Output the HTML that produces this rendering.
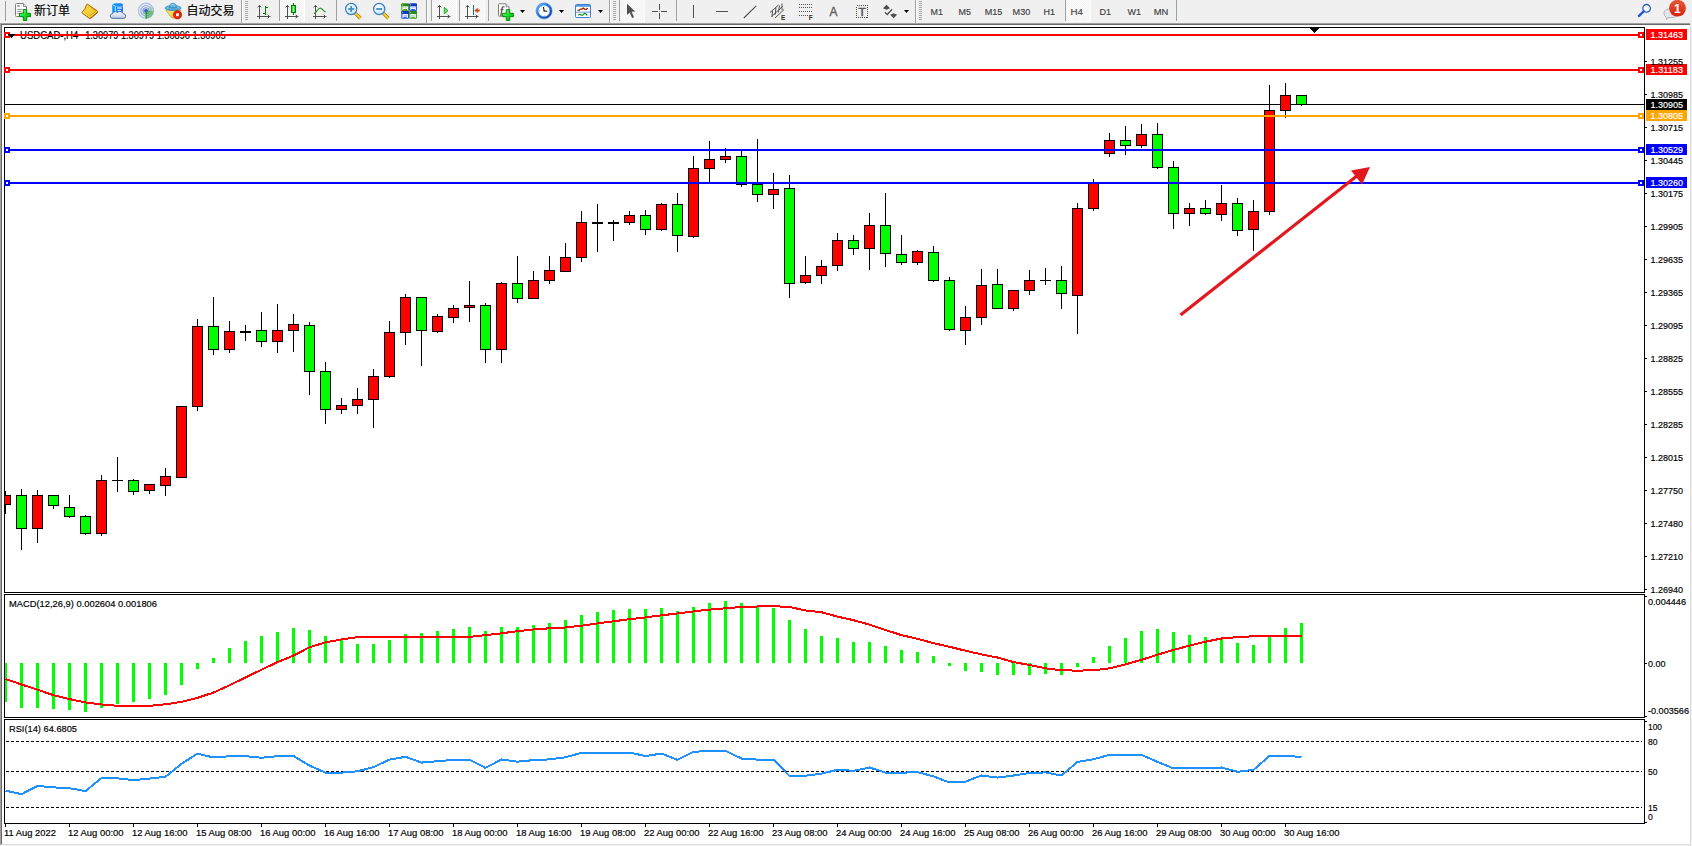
<!DOCTYPE html>
<html><head><meta charset="utf-8"><title>USDCAD-,H4</title>
<style>
html,body{margin:0;padding:0;background:#f0f0f0;overflow:hidden}
svg{display:block;font-family:'Liberation Sans','Noto Sans CJK SC',sans-serif}
</style></head><body>
<svg width="1692" height="846" viewBox="0 0 1692 846">
<rect x="0" y="0" width="1692" height="846" fill="#f0f0f0"/>
<g shape-rendering="crispEdges">
<rect x="0" y="23" width="1691" height="1" fill="#a0a0a0" />
<rect x="0" y="24" width="1691" height="1" fill="#696969" />
<rect x="0" y="23" width="1" height="822" fill="#a0a0a0" />
<rect x="1" y="24" width="1" height="820" fill="#696969" />
<rect x="2" y="25" width="1688" height="819" fill="#fff" />
<rect x="1690" y="23" width="1" height="822" fill="#dcdcdc" />
<rect x="1" y="844" width="1690" height="1" fill="#dcdcdc" />
<rect x="4" y="27" width="1641" height="1" fill="#000" />
<rect x="4" y="592" width="1641" height="1" fill="#000" />
<rect x="4" y="27" width="1" height="566" fill="#000" />
<rect x="1644" y="27" width="1" height="566" fill="#000" />
<rect x="4" y="594" width="1641" height="1" fill="#000" />
<rect x="4" y="717" width="1641" height="1" fill="#000" />
<rect x="4" y="594" width="1" height="124" fill="#000" />
<rect x="1644" y="594" width="1" height="124" fill="#000" />
<rect x="4" y="719" width="1641" height="1" fill="#000" />
<rect x="4" y="823" width="1641" height="1" fill="#000" />
<rect x="4" y="719" width="1" height="105" fill="#000" />
<rect x="1644" y="719" width="1" height="105" fill="#000" />
<clipPath id="cm"><rect x="5" y="28" width="1639" height="564"/></clipPath>
<rect x="5" y="104" width="1639" height="1" fill="#000" />
<g id="candles" clip-path="url(#cm)">
<rect x="5" y="491" width="1" height="23" fill="#000" />
<rect x="0" y="495" width="11" height="10" fill="#000" />
<rect x="1" y="496" width="9" height="8" fill="#ff0000" />
<rect x="21" y="489" width="1" height="61" fill="#000" />
<rect x="16" y="495" width="11" height="34" fill="#000" />
<rect x="17" y="496" width="9" height="32" fill="#00ff00" />
<rect x="37" y="490" width="1" height="53" fill="#000" />
<rect x="32" y="495" width="11" height="34" fill="#000" />
<rect x="33" y="496" width="9" height="32" fill="#ff0000" />
<rect x="53" y="495" width="1" height="14" fill="#000" />
<rect x="48" y="495" width="11" height="11" fill="#000" />
<rect x="49" y="496" width="9" height="9" fill="#00ff00" />
<rect x="69" y="495" width="1" height="23" fill="#000" />
<rect x="64" y="507" width="11" height="10" fill="#000" />
<rect x="65" y="508" width="9" height="8" fill="#00ff00" />
<rect x="85" y="515" width="1" height="20" fill="#000" />
<rect x="80" y="516" width="11" height="18" fill="#000" />
<rect x="81" y="517" width="9" height="16" fill="#00ff00" />
<rect x="101" y="475" width="1" height="61" fill="#000" />
<rect x="96" y="480" width="11" height="54" fill="#000" />
<rect x="97" y="481" width="9" height="52" fill="#ff0000" />
<rect x="117" y="457" width="1" height="35" fill="#000" />
<rect x="112" y="480" width="11" height="1" fill="#000" />
<rect x="133" y="479" width="1" height="16" fill="#000" />
<rect x="128" y="480" width="11" height="12" fill="#000" />
<rect x="129" y="481" width="9" height="10" fill="#00ff00" />
<rect x="149" y="484" width="1" height="10" fill="#000" />
<rect x="144" y="484" width="11" height="7" fill="#000" />
<rect x="145" y="485" width="9" height="5" fill="#ff0000" />
<rect x="165" y="468" width="1" height="28" fill="#000" />
<rect x="160" y="476" width="11" height="10" fill="#000" />
<rect x="161" y="477" width="9" height="8" fill="#ff0000" />
<rect x="181" y="406" width="1" height="71" fill="#000" />
<rect x="176" y="406" width="11" height="72" fill="#000" />
<rect x="177" y="407" width="9" height="70" fill="#ff0000" />
<rect x="197" y="319" width="1" height="92" fill="#000" />
<rect x="192" y="326" width="11" height="81" fill="#000" />
<rect x="193" y="327" width="9" height="79" fill="#ff0000" />
<rect x="213" y="297" width="1" height="58" fill="#000" />
<rect x="208" y="326" width="11" height="24" fill="#000" />
<rect x="209" y="327" width="9" height="22" fill="#00ff00" />
<rect x="229" y="321" width="1" height="32" fill="#000" />
<rect x="224" y="331" width="11" height="19" fill="#000" />
<rect x="225" y="332" width="9" height="17" fill="#ff0000" />
<rect x="245" y="325" width="1" height="16" fill="#000" />
<rect x="240" y="331" width="11" height="2" fill="#000" />
<rect x="261" y="312" width="1" height="35" fill="#000" />
<rect x="256" y="330" width="11" height="12" fill="#000" />
<rect x="257" y="331" width="9" height="10" fill="#00ff00" />
<rect x="277" y="304" width="1" height="49" fill="#000" />
<rect x="272" y="330" width="11" height="12" fill="#000" />
<rect x="273" y="331" width="9" height="10" fill="#ff0000" />
<rect x="293" y="314" width="1" height="38" fill="#000" />
<rect x="288" y="324" width="11" height="7" fill="#000" />
<rect x="289" y="325" width="9" height="5" fill="#ff0000" />
<rect x="309" y="322" width="1" height="73" fill="#000" />
<rect x="304" y="325" width="11" height="47" fill="#000" />
<rect x="305" y="326" width="9" height="45" fill="#00ff00" />
<rect x="325" y="362" width="1" height="62" fill="#000" />
<rect x="320" y="371" width="11" height="39" fill="#000" />
<rect x="321" y="372" width="9" height="37" fill="#00ff00" />
<rect x="341" y="398" width="1" height="16" fill="#000" />
<rect x="336" y="405" width="11" height="5" fill="#000" />
<rect x="337" y="406" width="9" height="3" fill="#ff0000" />
<rect x="357" y="388" width="1" height="26" fill="#000" />
<rect x="352" y="399" width="11" height="7" fill="#000" />
<rect x="353" y="400" width="9" height="5" fill="#ff0000" />
<rect x="373" y="369" width="1" height="59" fill="#000" />
<rect x="368" y="376" width="11" height="24" fill="#000" />
<rect x="369" y="377" width="9" height="22" fill="#ff0000" />
<rect x="389" y="321" width="1" height="57" fill="#000" />
<rect x="384" y="332" width="11" height="45" fill="#000" />
<rect x="385" y="333" width="9" height="43" fill="#ff0000" />
<rect x="405" y="294" width="1" height="51" fill="#000" />
<rect x="400" y="297" width="11" height="36" fill="#000" />
<rect x="401" y="298" width="9" height="34" fill="#ff0000" />
<rect x="421" y="297" width="1" height="69" fill="#000" />
<rect x="416" y="297" width="11" height="34" fill="#000" />
<rect x="417" y="298" width="9" height="32" fill="#00ff00" />
<rect x="437" y="314" width="1" height="19" fill="#000" />
<rect x="432" y="316" width="11" height="16" fill="#000" />
<rect x="433" y="317" width="9" height="14" fill="#ff0000" />
<rect x="453" y="305" width="1" height="18" fill="#000" />
<rect x="448" y="308" width="11" height="10" fill="#000" />
<rect x="449" y="309" width="9" height="8" fill="#ff0000" />
<rect x="469" y="281" width="1" height="41" fill="#000" />
<rect x="464" y="305" width="11" height="3" fill="#000" />
<rect x="465" y="306" width="9" height="1" fill="#ff0000" />
<rect x="485" y="303" width="1" height="60" fill="#000" />
<rect x="480" y="305" width="11" height="45" fill="#000" />
<rect x="481" y="306" width="9" height="43" fill="#00ff00" />
<rect x="501" y="282" width="1" height="81" fill="#000" />
<rect x="496" y="283" width="11" height="67" fill="#000" />
<rect x="497" y="284" width="9" height="65" fill="#ff0000" />
<rect x="517" y="256" width="1" height="47" fill="#000" />
<rect x="512" y="283" width="11" height="16" fill="#000" />
<rect x="513" y="284" width="9" height="14" fill="#00ff00" />
<rect x="533" y="271" width="1" height="27" fill="#000" />
<rect x="528" y="280" width="11" height="19" fill="#000" />
<rect x="529" y="281" width="9" height="17" fill="#ff0000" />
<rect x="549" y="256" width="1" height="28" fill="#000" />
<rect x="544" y="270" width="11" height="11" fill="#000" />
<rect x="545" y="271" width="9" height="9" fill="#ff0000" />
<rect x="565" y="243" width="1" height="29" fill="#000" />
<rect x="560" y="257" width="11" height="15" fill="#000" />
<rect x="561" y="258" width="9" height="13" fill="#ff0000" />
<rect x="581" y="211" width="1" height="51" fill="#000" />
<rect x="576" y="222" width="11" height="36" fill="#000" />
<rect x="577" y="223" width="9" height="34" fill="#ff0000" />
<rect x="597" y="204" width="1" height="48" fill="#000" />
<rect x="592" y="222" width="11" height="2" fill="#000" />
<rect x="613" y="220" width="1" height="21" fill="#000" />
<rect x="608" y="222" width="11" height="2" fill="#000" />
<rect x="629" y="211" width="1" height="14" fill="#000" />
<rect x="624" y="215" width="11" height="8" fill="#000" />
<rect x="625" y="216" width="9" height="6" fill="#ff0000" />
<rect x="645" y="210" width="1" height="25" fill="#000" />
<rect x="640" y="215" width="11" height="15" fill="#000" />
<rect x="641" y="216" width="9" height="13" fill="#00ff00" />
<rect x="661" y="203" width="1" height="28" fill="#000" />
<rect x="656" y="204" width="11" height="26" fill="#000" />
<rect x="657" y="205" width="9" height="24" fill="#ff0000" />
<rect x="677" y="193" width="1" height="59" fill="#000" />
<rect x="672" y="204" width="11" height="32" fill="#000" />
<rect x="673" y="205" width="9" height="30" fill="#00ff00" />
<rect x="693" y="156" width="1" height="82" fill="#000" />
<rect x="688" y="168" width="11" height="69" fill="#000" />
<rect x="689" y="169" width="9" height="67" fill="#ff0000" />
<rect x="709" y="141" width="1" height="41" fill="#000" />
<rect x="704" y="159" width="11" height="10" fill="#000" />
<rect x="705" y="160" width="9" height="8" fill="#ff0000" />
<rect x="725" y="148" width="1" height="15" fill="#000" />
<rect x="720" y="156" width="11" height="4" fill="#000" />
<rect x="721" y="157" width="9" height="2" fill="#ff0000" />
<rect x="741" y="151" width="1" height="36" fill="#000" />
<rect x="736" y="156" width="11" height="29" fill="#000" />
<rect x="737" y="157" width="9" height="27" fill="#00ff00" />
<rect x="757" y="139" width="1" height="63" fill="#000" />
<rect x="752" y="184" width="11" height="11" fill="#000" />
<rect x="753" y="185" width="9" height="9" fill="#00ff00" />
<rect x="773" y="173" width="1" height="36" fill="#000" />
<rect x="768" y="189" width="11" height="6" fill="#000" />
<rect x="769" y="190" width="9" height="4" fill="#ff0000" />
<rect x="789" y="175" width="1" height="123" fill="#000" />
<rect x="784" y="188" width="11" height="96" fill="#000" />
<rect x="785" y="189" width="9" height="94" fill="#00ff00" />
<rect x="805" y="256" width="1" height="28" fill="#000" />
<rect x="800" y="275" width="11" height="8" fill="#000" />
<rect x="801" y="276" width="9" height="6" fill="#ff0000" />
<rect x="821" y="260" width="1" height="24" fill="#000" />
<rect x="816" y="266" width="11" height="10" fill="#000" />
<rect x="817" y="267" width="9" height="8" fill="#ff0000" />
<rect x="837" y="233" width="1" height="38" fill="#000" />
<rect x="832" y="240" width="11" height="26" fill="#000" />
<rect x="833" y="241" width="9" height="24" fill="#ff0000" />
<rect x="853" y="235" width="1" height="20" fill="#000" />
<rect x="848" y="240" width="11" height="9" fill="#000" />
<rect x="849" y="241" width="9" height="7" fill="#00ff00" />
<rect x="869" y="213" width="1" height="57" fill="#000" />
<rect x="864" y="225" width="11" height="24" fill="#000" />
<rect x="865" y="226" width="9" height="22" fill="#ff0000" />
<rect x="885" y="193" width="1" height="74" fill="#000" />
<rect x="880" y="225" width="11" height="29" fill="#000" />
<rect x="881" y="226" width="9" height="27" fill="#00ff00" />
<rect x="901" y="235" width="1" height="30" fill="#000" />
<rect x="896" y="254" width="11" height="9" fill="#000" />
<rect x="897" y="255" width="9" height="7" fill="#00ff00" />
<rect x="917" y="250" width="1" height="15" fill="#000" />
<rect x="912" y="251" width="11" height="12" fill="#000" />
<rect x="913" y="252" width="9" height="10" fill="#ff0000" />
<rect x="933" y="246" width="1" height="36" fill="#000" />
<rect x="928" y="252" width="11" height="29" fill="#000" />
<rect x="929" y="253" width="9" height="27" fill="#00ff00" />
<rect x="949" y="277" width="1" height="54" fill="#000" />
<rect x="944" y="280" width="11" height="50" fill="#000" />
<rect x="945" y="281" width="9" height="48" fill="#00ff00" />
<rect x="965" y="306" width="1" height="39" fill="#000" />
<rect x="960" y="317" width="11" height="14" fill="#000" />
<rect x="961" y="318" width="9" height="12" fill="#ff0000" />
<rect x="981" y="269" width="1" height="56" fill="#000" />
<rect x="976" y="285" width="11" height="33" fill="#000" />
<rect x="977" y="286" width="9" height="31" fill="#ff0000" />
<rect x="997" y="269" width="1" height="39" fill="#000" />
<rect x="992" y="284" width="11" height="25" fill="#000" />
<rect x="993" y="285" width="9" height="23" fill="#00ff00" />
<rect x="1013" y="290" width="1" height="21" fill="#000" />
<rect x="1008" y="290" width="11" height="19" fill="#000" />
<rect x="1009" y="291" width="9" height="17" fill="#ff0000" />
<rect x="1029" y="270" width="1" height="25" fill="#000" />
<rect x="1024" y="280" width="11" height="11" fill="#000" />
<rect x="1025" y="281" width="9" height="9" fill="#ff0000" />
<rect x="1045" y="268" width="1" height="17" fill="#000" />
<rect x="1040" y="280" width="11" height="1" fill="#000" />
<rect x="1061" y="266" width="1" height="43" fill="#000" />
<rect x="1056" y="280" width="11" height="14" fill="#000" />
<rect x="1057" y="281" width="9" height="12" fill="#00ff00" />
<rect x="1077" y="203" width="1" height="131" fill="#000" />
<rect x="1072" y="208" width="11" height="88" fill="#000" />
<rect x="1073" y="209" width="9" height="86" fill="#ff0000" />
<rect x="1093" y="179" width="1" height="32" fill="#000" />
<rect x="1088" y="183" width="11" height="26" fill="#000" />
<rect x="1089" y="184" width="9" height="24" fill="#ff0000" />
<rect x="1109" y="133" width="1" height="24" fill="#000" />
<rect x="1104" y="140" width="11" height="14" fill="#000" />
<rect x="1105" y="141" width="9" height="12" fill="#ff0000" />
<rect x="1125" y="126" width="1" height="29" fill="#000" />
<rect x="1120" y="140" width="11" height="6" fill="#000" />
<rect x="1121" y="141" width="9" height="4" fill="#00ff00" />
<rect x="1141" y="124" width="1" height="24" fill="#000" />
<rect x="1136" y="134" width="11" height="12" fill="#000" />
<rect x="1137" y="135" width="9" height="10" fill="#ff0000" />
<rect x="1157" y="123" width="1" height="46" fill="#000" />
<rect x="1152" y="134" width="11" height="34" fill="#000" />
<rect x="1153" y="135" width="9" height="32" fill="#00ff00" />
<rect x="1173" y="161" width="1" height="68" fill="#000" />
<rect x="1168" y="167" width="11" height="47" fill="#000" />
<rect x="1169" y="168" width="9" height="45" fill="#00ff00" />
<rect x="1189" y="203" width="1" height="23" fill="#000" />
<rect x="1184" y="208" width="11" height="6" fill="#000" />
<rect x="1185" y="209" width="9" height="4" fill="#ff0000" />
<rect x="1205" y="200" width="1" height="15" fill="#000" />
<rect x="1200" y="208" width="11" height="6" fill="#000" />
<rect x="1201" y="209" width="9" height="4" fill="#00ff00" />
<rect x="1221" y="185" width="1" height="36" fill="#000" />
<rect x="1216" y="203" width="11" height="12" fill="#000" />
<rect x="1217" y="204" width="9" height="10" fill="#ff0000" />
<rect x="1237" y="198" width="1" height="38" fill="#000" />
<rect x="1232" y="203" width="11" height="28" fill="#000" />
<rect x="1233" y="204" width="9" height="26" fill="#00ff00" />
<rect x="1253" y="200" width="1" height="51" fill="#000" />
<rect x="1248" y="211" width="11" height="19" fill="#000" />
<rect x="1249" y="212" width="9" height="17" fill="#ff0000" />
<rect x="1269" y="85" width="1" height="130" fill="#000" />
<rect x="1264" y="110" width="11" height="102" fill="#000" />
<rect x="1265" y="111" width="9" height="100" fill="#ff0000" />
<rect x="1285" y="83" width="1" height="35" fill="#000" />
<rect x="1280" y="95" width="11" height="16" fill="#000" />
<rect x="1281" y="96" width="9" height="14" fill="#ff0000" />
<rect x="1301" y="95" width="1" height="11" fill="#000" />
<rect x="1296" y="95" width="11" height="10" fill="#000" />
<rect x="1297" y="96" width="9" height="8" fill="#00ff00" />
</g>
</g>
<text x="20" y="38.8" font-size="10" fill="#000" stroke="#000" stroke-width="0.18" text-anchor="start" font-weight="normal" textLength="58.3" lengthAdjust="spacingAndGlyphs" >USDCAD-,H4</text>
<text x="85.2" y="38.8" font-size="10" fill="#000" stroke="#000" stroke-width="0.18" text-anchor="start" font-weight="normal" textLength="140.5" lengthAdjust="spacingAndGlyphs" >1.30979 1.30979 1.30896 1.30905</text>
<g shape-rendering="crispEdges">
<rect x="5" y="34" width="1639" height="2" fill="#ff0000" />
<rect x="4" y="32" width="6" height="6" fill="#ff0000" />
<rect x="6" y="34" width="2" height="2" fill="#fff" />
<rect x="1638" y="32" width="6" height="6" fill="#ff0000" />
<rect x="1640" y="34" width="2" height="2" fill="#fff" />
<rect x="1646" y="29" width="41" height="11" fill="#ff0000" />
<rect x="5" y="69" width="1639" height="2" fill="#ff0000" />
<rect x="4" y="67" width="6" height="6" fill="#ff0000" />
<rect x="6" y="69" width="2" height="2" fill="#fff" />
<rect x="1638" y="67" width="6" height="6" fill="#ff0000" />
<rect x="1640" y="69" width="2" height="2" fill="#fff" />
<rect x="1646" y="64" width="41" height="11" fill="#ff0000" />
<rect x="5" y="115" width="1639" height="2" fill="#ffa500" />
<rect x="4" y="113" width="6" height="6" fill="#ffa500" />
<rect x="6" y="115" width="2" height="2" fill="#fff" />
<rect x="1638" y="113" width="6" height="6" fill="#ffa500" />
<rect x="1640" y="115" width="2" height="2" fill="#fff" />
<rect x="1646" y="110" width="41" height="11" fill="#ffa500" />
<rect x="5" y="149" width="1639" height="2" fill="#0000ff" />
<rect x="4" y="147" width="6" height="6" fill="#0000ff" />
<rect x="6" y="149" width="2" height="2" fill="#fff" />
<rect x="1638" y="147" width="6" height="6" fill="#0000ff" />
<rect x="1640" y="149" width="2" height="2" fill="#fff" />
<rect x="1646" y="144" width="41" height="11" fill="#0000ff" />
<rect x="5" y="182" width="1639" height="2" fill="#0000ff" />
<rect x="4" y="180" width="6" height="6" fill="#0000ff" />
<rect x="6" y="182" width="2" height="2" fill="#fff" />
<rect x="1638" y="180" width="6" height="6" fill="#0000ff" />
<rect x="1640" y="182" width="2" height="2" fill="#fff" />
<rect x="1646" y="177" width="41" height="11" fill="#0000ff" />
<rect x="1646" y="99" width="41" height="11" fill="#000" />
<path d="M8 34h7l-3.5 4z" fill="#000"/>
<path d="M1310 28h9l-4.5 5z" fill="#000"/>
</g>
<g><line x1="1180.5" y1="315" x2="1360" y2="173.5" stroke="#e3181e" stroke-width="3.2"/><path d="M1370 167L1351 170.5L1362 184.5z" fill="#e3181e"/></g>
<g shape-rendering="crispEdges">
<rect x="4" y="663" width="3" height="39" fill="#00ff00" clip-path="url(#cmacd)"/>
<rect x="20" y="663" width="3" height="45" fill="#00ff00" clip-path="url(#cmacd)"/>
<rect x="36" y="663" width="3" height="45" fill="#00ff00" clip-path="url(#cmacd)"/>
<rect x="52" y="663" width="3" height="46" fill="#00ff00" clip-path="url(#cmacd)"/>
<rect x="68" y="663" width="3" height="47" fill="#00ff00" clip-path="url(#cmacd)"/>
<rect x="84" y="663" width="3" height="49" fill="#00ff00" clip-path="url(#cmacd)"/>
<rect x="100" y="663" width="3" height="45" fill="#00ff00" clip-path="url(#cmacd)"/>
<rect x="116" y="663" width="3" height="41" fill="#00ff00" clip-path="url(#cmacd)"/>
<rect x="132" y="663" width="3" height="39" fill="#00ff00" clip-path="url(#cmacd)"/>
<rect x="148" y="663" width="3" height="36" fill="#00ff00" clip-path="url(#cmacd)"/>
<rect x="164" y="663" width="3" height="32" fill="#00ff00" clip-path="url(#cmacd)"/>
<rect x="180" y="663" width="3" height="22" fill="#00ff00" clip-path="url(#cmacd)"/>
<rect x="196" y="663" width="3" height="6" fill="#00ff00" clip-path="url(#cmacd)"/>
<rect x="212" y="658" width="3" height="5" fill="#00ff00" clip-path="url(#cmacd)"/>
<rect x="228" y="648" width="3" height="15" fill="#00ff00" clip-path="url(#cmacd)"/>
<rect x="244" y="641" width="3" height="22" fill="#00ff00" clip-path="url(#cmacd)"/>
<rect x="260" y="636" width="3" height="27" fill="#00ff00" clip-path="url(#cmacd)"/>
<rect x="276" y="632" width="3" height="31" fill="#00ff00" clip-path="url(#cmacd)"/>
<rect x="292" y="628" width="3" height="35" fill="#00ff00" clip-path="url(#cmacd)"/>
<rect x="308" y="630" width="3" height="33" fill="#00ff00" clip-path="url(#cmacd)"/>
<rect x="324" y="636" width="3" height="27" fill="#00ff00" clip-path="url(#cmacd)"/>
<rect x="340" y="640" width="3" height="23" fill="#00ff00" clip-path="url(#cmacd)"/>
<rect x="356" y="644" width="3" height="19" fill="#00ff00" clip-path="url(#cmacd)"/>
<rect x="372" y="644" width="3" height="19" fill="#00ff00" clip-path="url(#cmacd)"/>
<rect x="388" y="640" width="3" height="23" fill="#00ff00" clip-path="url(#cmacd)"/>
<rect x="404" y="634" width="3" height="29" fill="#00ff00" clip-path="url(#cmacd)"/>
<rect x="420" y="633" width="3" height="30" fill="#00ff00" clip-path="url(#cmacd)"/>
<rect x="436" y="631" width="3" height="32" fill="#00ff00" clip-path="url(#cmacd)"/>
<rect x="452" y="629" width="3" height="34" fill="#00ff00" clip-path="url(#cmacd)"/>
<rect x="468" y="627" width="3" height="36" fill="#00ff00" clip-path="url(#cmacd)"/>
<rect x="484" y="631" width="3" height="32" fill="#00ff00" clip-path="url(#cmacd)"/>
<rect x="500" y="627" width="3" height="36" fill="#00ff00" clip-path="url(#cmacd)"/>
<rect x="516" y="627" width="3" height="36" fill="#00ff00" clip-path="url(#cmacd)"/>
<rect x="532" y="625" width="3" height="38" fill="#00ff00" clip-path="url(#cmacd)"/>
<rect x="548" y="623" width="3" height="40" fill="#00ff00" clip-path="url(#cmacd)"/>
<rect x="564" y="620" width="3" height="43" fill="#00ff00" clip-path="url(#cmacd)"/>
<rect x="580" y="615" width="3" height="48" fill="#00ff00" clip-path="url(#cmacd)"/>
<rect x="596" y="612" width="3" height="51" fill="#00ff00" clip-path="url(#cmacd)"/>
<rect x="612" y="610" width="3" height="53" fill="#00ff00" clip-path="url(#cmacd)"/>
<rect x="628" y="609" width="3" height="54" fill="#00ff00" clip-path="url(#cmacd)"/>
<rect x="644" y="609" width="3" height="54" fill="#00ff00" clip-path="url(#cmacd)"/>
<rect x="660" y="608" width="3" height="55" fill="#00ff00" clip-path="url(#cmacd)"/>
<rect x="676" y="611" width="3" height="52" fill="#00ff00" clip-path="url(#cmacd)"/>
<rect x="692" y="607" width="3" height="56" fill="#00ff00" clip-path="url(#cmacd)"/>
<rect x="708" y="603" width="3" height="60" fill="#00ff00" clip-path="url(#cmacd)"/>
<rect x="724" y="601" width="3" height="62" fill="#00ff00" clip-path="url(#cmacd)"/>
<rect x="740" y="603" width="3" height="60" fill="#00ff00" clip-path="url(#cmacd)"/>
<rect x="756" y="606" width="3" height="57" fill="#00ff00" clip-path="url(#cmacd)"/>
<rect x="772" y="608" width="3" height="55" fill="#00ff00" clip-path="url(#cmacd)"/>
<rect x="788" y="620" width="3" height="43" fill="#00ff00" clip-path="url(#cmacd)"/>
<rect x="804" y="629" width="3" height="34" fill="#00ff00" clip-path="url(#cmacd)"/>
<rect x="820" y="636" width="3" height="27" fill="#00ff00" clip-path="url(#cmacd)"/>
<rect x="836" y="638" width="3" height="25" fill="#00ff00" clip-path="url(#cmacd)"/>
<rect x="852" y="642" width="3" height="21" fill="#00ff00" clip-path="url(#cmacd)"/>
<rect x="868" y="642" width="3" height="21" fill="#00ff00" clip-path="url(#cmacd)"/>
<rect x="884" y="646" width="3" height="17" fill="#00ff00" clip-path="url(#cmacd)"/>
<rect x="900" y="650" width="3" height="13" fill="#00ff00" clip-path="url(#cmacd)"/>
<rect x="916" y="652" width="3" height="11" fill="#00ff00" clip-path="url(#cmacd)"/>
<rect x="932" y="656" width="3" height="7" fill="#00ff00" clip-path="url(#cmacd)"/>
<rect x="948" y="663" width="3" height="3" fill="#00ff00" clip-path="url(#cmacd)"/>
<rect x="964" y="663" width="3" height="8" fill="#00ff00" clip-path="url(#cmacd)"/>
<rect x="980" y="663" width="3" height="9" fill="#00ff00" clip-path="url(#cmacd)"/>
<rect x="996" y="663" width="3" height="12" fill="#00ff00" clip-path="url(#cmacd)"/>
<rect x="1012" y="663" width="3" height="12" fill="#00ff00" clip-path="url(#cmacd)"/>
<rect x="1028" y="663" width="3" height="12" fill="#00ff00" clip-path="url(#cmacd)"/>
<rect x="1044" y="663" width="3" height="11" fill="#00ff00" clip-path="url(#cmacd)"/>
<rect x="1060" y="663" width="3" height="12" fill="#00ff00" clip-path="url(#cmacd)"/>
<rect x="1076" y="663" width="3" height="4" fill="#00ff00" clip-path="url(#cmacd)"/>
<rect x="1092" y="657" width="3" height="6" fill="#00ff00" clip-path="url(#cmacd)"/>
<rect x="1108" y="646" width="3" height="17" fill="#00ff00" clip-path="url(#cmacd)"/>
<rect x="1124" y="638" width="3" height="25" fill="#00ff00" clip-path="url(#cmacd)"/>
<rect x="1140" y="631" width="3" height="32" fill="#00ff00" clip-path="url(#cmacd)"/>
<rect x="1156" y="629" width="3" height="34" fill="#00ff00" clip-path="url(#cmacd)"/>
<rect x="1172" y="632" width="3" height="31" fill="#00ff00" clip-path="url(#cmacd)"/>
<rect x="1188" y="635" width="3" height="28" fill="#00ff00" clip-path="url(#cmacd)"/>
<rect x="1204" y="637" width="3" height="26" fill="#00ff00" clip-path="url(#cmacd)"/>
<rect x="1220" y="639" width="3" height="24" fill="#00ff00" clip-path="url(#cmacd)"/>
<rect x="1236" y="643" width="3" height="20" fill="#00ff00" clip-path="url(#cmacd)"/>
<rect x="1252" y="645" width="3" height="18" fill="#00ff00" clip-path="url(#cmacd)"/>
<rect x="1268" y="637" width="3" height="26" fill="#00ff00" clip-path="url(#cmacd)"/>
<rect x="1284" y="628" width="3" height="35" fill="#00ff00" clip-path="url(#cmacd)"/>
<rect x="1300" y="623" width="3" height="40" fill="#00ff00" clip-path="url(#cmacd)"/>
</g>
<clipPath id="cmacd"><rect x="5" y="595" width="1639" height="122"/></clipPath>
<clipPath id="crsi"><rect x="5" y="720" width="1639" height="103"/></clipPath>
<polyline points="5.5,679.0 21.5,684.5 37.5,689.7 53.5,695.2 69.5,699.1 85.5,702.5 101.5,704.5 117.5,705.8 133.5,706.1 149.5,705.8 165.5,704.3 181.5,701.9 197.5,697.8 213.5,692.6 229.5,685.3 245.5,677.5 261.5,669.7 277.5,662.1 293.5,655.6 309.5,647.3 325.5,642.4 341.5,639.5 357.5,637.2 373.5,636.9 389.5,636.9 405.5,636.9 421.5,636.9 437.5,636.9 453.5,636.9 469.5,636.9 485.5,635.1 501.5,633.3 517.5,631.2 533.5,629.4 549.5,628.3 565.5,627.5 581.5,625.7 597.5,623.4 613.5,621.3 629.5,619.2 645.5,617.4 661.5,615.3 677.5,613.5 693.5,611.4 709.5,609.6 725.5,608.3 741.5,607.0 757.5,606.5 773.5,606.2 789.5,607.0 805.5,610.4 821.5,612.2 837.5,616.6 853.5,620.2 869.5,624.6 885.5,630.0 901.5,635.1 917.5,638.8 933.5,643.1 949.5,646.8 965.5,650.7 981.5,654.4 997.5,657.5 1013.5,662.1 1029.5,664.9 1045.5,668.3 1061.5,670.3 1077.5,670.6 1093.5,670.3 1109.5,668.3 1125.5,664.4 1141.5,659.8 1157.5,654.7 1173.5,649.9 1189.5,645.6 1205.5,641.7 1221.5,638.5 1237.5,637.1 1253.5,636.3 1269.5,636.0 1285.5,636.0 1301.5,636.0" fill="none" stroke="#ff0000" stroke-width="2" stroke-linejoin="round" shape-rendering="crispEdges" clip-path="url(#cmacd)"/>
<g shape-rendering="crispEdges">
<line x1="6" y1="741.5" x2="1642" y2="741.5" stroke="#000" stroke-width="1" stroke-dasharray="3 2"/>
<line x1="6" y1="771.5" x2="1642" y2="771.5" stroke="#000" stroke-width="1" stroke-dasharray="3 2"/>
<line x1="6" y1="807.5" x2="1642" y2="807.5" stroke="#000" stroke-width="1" stroke-dasharray="3 2"/>
</g>
<polyline points="5.5,790.6 21.5,794.2 37.5,785.9 53.5,787.4 69.5,788.2 85.5,791.1 101.5,778.1 117.5,778.3 133.5,780.2 149.5,778.6 165.5,776.8 181.5,763.8 197.5,753.6 213.5,757.5 229.5,756.2 245.5,756.2 261.5,757.8 277.5,756.2 293.5,756.0 309.5,765.6 325.5,772.6 341.5,772.6 357.5,771.3 373.5,767.2 389.5,759.6 405.5,756.8 421.5,762.6 437.5,761.2 453.5,759.9 469.5,759.6 485.5,767.9 501.5,759.4 517.5,761.7 533.5,760.1 549.5,759.4 565.5,757.3 581.5,752.9 597.5,752.6 613.5,752.6 629.5,752.6 645.5,756.0 661.5,753.6 677.5,759.9 693.5,751.8 709.5,751.0 725.5,750.8 741.5,758.6 757.5,759.6 773.5,759.6 789.5,776.0 805.5,775.7 821.5,773.7 837.5,769.8 853.5,770.8 869.5,767.5 885.5,772.7 901.5,772.7 917.5,772.1 933.5,776.4 949.5,782.5 965.5,781.6 981.5,775.5 997.5,777.6 1013.5,775.5 1029.5,773.0 1045.5,772.4 1061.5,775.5 1077.5,761.9 1093.5,759.2 1109.5,754.9 1125.5,754.9 1141.5,754.9 1157.5,761.9 1173.5,768.4 1189.5,768.4 1205.5,768.4 1221.5,767.5 1237.5,771.8 1253.5,769.9 1269.5,755.8 1285.5,755.8 1301.5,757.0" fill="none" stroke="#1e90ff" stroke-width="2" stroke-linejoin="round" shape-rendering="crispEdges" clip-path="url(#crsi)"/>
<g shape-rendering="crispEdges">
<rect x="1645" y="61" width="2" height="1" fill="#000" />
<rect x="1645" y="94" width="2" height="1" fill="#000" />
<rect x="1645" y="127" width="2" height="1" fill="#000" />
<rect x="1645" y="160" width="2" height="1" fill="#000" />
<rect x="1645" y="193" width="2" height="1" fill="#000" />
<rect x="1645" y="226" width="2" height="1" fill="#000" />
<rect x="1645" y="259" width="2" height="1" fill="#000" />
<rect x="1645" y="292" width="2" height="1" fill="#000" />
<rect x="1645" y="325" width="2" height="1" fill="#000" />
<rect x="1645" y="358" width="2" height="1" fill="#000" />
<rect x="1645" y="391" width="2" height="1" fill="#000" />
<rect x="1645" y="424" width="2" height="1" fill="#000" />
<rect x="1645" y="457" width="2" height="1" fill="#000" />
<rect x="1645" y="490" width="2" height="1" fill="#000" />
<rect x="1645" y="523" width="2" height="1" fill="#000" />
<rect x="1645" y="556" width="2" height="1" fill="#000" />
<rect x="1645" y="589" width="2" height="1" fill="#000" />
<rect x="1645" y="596" width="2" height="1" fill="#000" />
<rect x="1645" y="663" width="2" height="1" fill="#000" />
<rect x="1645" y="716" width="2" height="1" fill="#000" />
<rect x="1645" y="721" width="2" height="1" fill="#000" />
<rect x="1645" y="822" width="2" height="1" fill="#000" />
<rect x="5" y="824" width="1" height="3" fill="#000" />
<rect x="69" y="824" width="1" height="3" fill="#000" />
<rect x="133" y="824" width="1" height="3" fill="#000" />
<rect x="197" y="824" width="1" height="3" fill="#000" />
<rect x="261" y="824" width="1" height="3" fill="#000" />
<rect x="325" y="824" width="1" height="3" fill="#000" />
<rect x="389" y="824" width="1" height="3" fill="#000" />
<rect x="453" y="824" width="1" height="3" fill="#000" />
<rect x="517" y="824" width="1" height="3" fill="#000" />
<rect x="581" y="824" width="1" height="3" fill="#000" />
<rect x="645" y="824" width="1" height="3" fill="#000" />
<rect x="709" y="824" width="1" height="3" fill="#000" />
<rect x="773" y="824" width="1" height="3" fill="#000" />
<rect x="837" y="824" width="1" height="3" fill="#000" />
<rect x="901" y="824" width="1" height="3" fill="#000" />
<rect x="965" y="824" width="1" height="3" fill="#000" />
<rect x="1029" y="824" width="1" height="3" fill="#000" />
<rect x="1093" y="824" width="1" height="3" fill="#000" />
<rect x="1157" y="824" width="1" height="3" fill="#000" />
<rect x="1221" y="824" width="1" height="3" fill="#000" />
<rect x="1285" y="824" width="1" height="3" fill="#000" />
</g>
<text x="1650.5" y="64.7" font-size="9.7" fill="#000" stroke="#000" stroke-width="0.18" text-anchor="start" font-weight="normal" textLength="32.5" lengthAdjust="spacingAndGlyphs" >1.31255</text>
<text x="1650.5" y="97.7" font-size="9.7" fill="#000" stroke="#000" stroke-width="0.18" text-anchor="start" font-weight="normal" textLength="32.5" lengthAdjust="spacingAndGlyphs" >1.30985</text>
<text x="1650.5" y="130.7" font-size="9.7" fill="#000" stroke="#000" stroke-width="0.18" text-anchor="start" font-weight="normal" textLength="32.5" lengthAdjust="spacingAndGlyphs" >1.30715</text>
<text x="1650.5" y="163.7" font-size="9.7" fill="#000" stroke="#000" stroke-width="0.18" text-anchor="start" font-weight="normal" textLength="32.5" lengthAdjust="spacingAndGlyphs" >1.30445</text>
<text x="1650.5" y="196.7" font-size="9.7" fill="#000" stroke="#000" stroke-width="0.18" text-anchor="start" font-weight="normal" textLength="32.5" lengthAdjust="spacingAndGlyphs" >1.30175</text>
<text x="1650.5" y="229.7" font-size="9.7" fill="#000" stroke="#000" stroke-width="0.18" text-anchor="start" font-weight="normal" textLength="32.5" lengthAdjust="spacingAndGlyphs" >1.29905</text>
<text x="1650.5" y="262.7" font-size="9.7" fill="#000" stroke="#000" stroke-width="0.18" text-anchor="start" font-weight="normal" textLength="32.5" lengthAdjust="spacingAndGlyphs" >1.29635</text>
<text x="1650.5" y="295.7" font-size="9.7" fill="#000" stroke="#000" stroke-width="0.18" text-anchor="start" font-weight="normal" textLength="32.5" lengthAdjust="spacingAndGlyphs" >1.29365</text>
<text x="1650.5" y="328.7" font-size="9.7" fill="#000" stroke="#000" stroke-width="0.18" text-anchor="start" font-weight="normal" textLength="32.5" lengthAdjust="spacingAndGlyphs" >1.29095</text>
<text x="1650.5" y="361.7" font-size="9.7" fill="#000" stroke="#000" stroke-width="0.18" text-anchor="start" font-weight="normal" textLength="32.5" lengthAdjust="spacingAndGlyphs" >1.28825</text>
<text x="1650.5" y="394.7" font-size="9.7" fill="#000" stroke="#000" stroke-width="0.18" text-anchor="start" font-weight="normal" textLength="32.5" lengthAdjust="spacingAndGlyphs" >1.28555</text>
<text x="1650.5" y="427.7" font-size="9.7" fill="#000" stroke="#000" stroke-width="0.18" text-anchor="start" font-weight="normal" textLength="32.5" lengthAdjust="spacingAndGlyphs" >1.28285</text>
<text x="1650.5" y="460.7" font-size="9.7" fill="#000" stroke="#000" stroke-width="0.18" text-anchor="start" font-weight="normal" textLength="32.5" lengthAdjust="spacingAndGlyphs" >1.28015</text>
<text x="1650.5" y="493.7" font-size="9.7" fill="#000" stroke="#000" stroke-width="0.18" text-anchor="start" font-weight="normal" textLength="32.5" lengthAdjust="spacingAndGlyphs" >1.27750</text>
<text x="1650.5" y="526.7" font-size="9.7" fill="#000" stroke="#000" stroke-width="0.18" text-anchor="start" font-weight="normal" textLength="32.5" lengthAdjust="spacingAndGlyphs" >1.27480</text>
<text x="1650.5" y="559.7" font-size="9.7" fill="#000" stroke="#000" stroke-width="0.18" text-anchor="start" font-weight="normal" textLength="32.5" lengthAdjust="spacingAndGlyphs" >1.27210</text>
<text x="1650.5" y="592.7" font-size="9.7" fill="#000" stroke="#000" stroke-width="0.18" text-anchor="start" font-weight="normal" textLength="32.5" lengthAdjust="spacingAndGlyphs" >1.26940</text>
<text x="1650.5" y="38.0" font-size="9.7" fill="#fff" stroke="#fff" stroke-width="0.18" text-anchor="start" font-weight="normal" textLength="32.5" lengthAdjust="spacingAndGlyphs" >1.31463</text>
<text x="1650.5" y="73.0" font-size="9.7" fill="#fff" stroke="#fff" stroke-width="0.18" text-anchor="start" font-weight="normal" textLength="32.5" lengthAdjust="spacingAndGlyphs" >1.31183</text>
<text x="1650.5" y="107.5" font-size="9.7" fill="#fff" stroke="#fff" stroke-width="0.18" text-anchor="start" font-weight="normal" textLength="32.5" lengthAdjust="spacingAndGlyphs" >1.30905</text>
<text x="1650.5" y="119.0" font-size="9.7" fill="#fff" stroke="#fff" stroke-width="0.18" text-anchor="start" font-weight="normal" textLength="32.5" lengthAdjust="spacingAndGlyphs" >1.30805</text>
<text x="1650.5" y="153.0" font-size="9.7" fill="#fff" stroke="#fff" stroke-width="0.18" text-anchor="start" font-weight="normal" textLength="32.5" lengthAdjust="spacingAndGlyphs" >1.30529</text>
<text x="1650.5" y="186.0" font-size="9.7" fill="#fff" stroke="#fff" stroke-width="0.18" text-anchor="start" font-weight="normal" textLength="32.5" lengthAdjust="spacingAndGlyphs" >1.30260</text>
<text x="1648" y="605" font-size="9.7" fill="#000" stroke="#000" stroke-width="0.18" text-anchor="start" font-weight="normal" textLength="38" lengthAdjust="spacingAndGlyphs" >0.004446</text>
<text x="1648" y="667" font-size="9.7" fill="#000" stroke="#000" stroke-width="0.18" text-anchor="start" font-weight="normal" textLength="17.5" lengthAdjust="spacingAndGlyphs" >0.00</text>
<text x="1648" y="714" font-size="9.7" fill="#000" stroke="#000" stroke-width="0.18" text-anchor="start" font-weight="normal" textLength="41" lengthAdjust="spacingAndGlyphs" >-0.003566</text>
<text x="1648" y="730" font-size="9.7" fill="#000" stroke="#000" stroke-width="0.18" text-anchor="start" font-weight="normal" textLength="14" lengthAdjust="spacingAndGlyphs" >100</text>
<text x="1648" y="744.6" font-size="9.7" fill="#000" stroke="#000" stroke-width="0.18" text-anchor="start" font-weight="normal" textLength="9.5" lengthAdjust="spacingAndGlyphs" >80</text>
<text x="1648" y="774.6" font-size="9.7" fill="#000" stroke="#000" stroke-width="0.18" text-anchor="start" font-weight="normal" textLength="9.5" lengthAdjust="spacingAndGlyphs" >50</text>
<text x="1648" y="811" font-size="9.7" fill="#000" stroke="#000" stroke-width="0.18" text-anchor="start" font-weight="normal" textLength="9.5" lengthAdjust="spacingAndGlyphs" >15</text>
<text x="1648" y="820" font-size="9.7" fill="#000" stroke="#000" stroke-width="0.18" text-anchor="start" font-weight="normal" textLength="4.8" lengthAdjust="spacingAndGlyphs" >0</text>
<text x="4" y="836" font-size="9.7" fill="#000" stroke="#000" stroke-width="0.18" text-anchor="start" font-weight="normal" textLength="52" lengthAdjust="spacingAndGlyphs" >11 Aug 2022</text>
<text x="68" y="836" font-size="9.7" fill="#000" stroke="#000" stroke-width="0.18" text-anchor="start" font-weight="normal" textLength="55.5" lengthAdjust="spacingAndGlyphs" >12 Aug 00:00</text>
<text x="132" y="836" font-size="9.7" fill="#000" stroke="#000" stroke-width="0.18" text-anchor="start" font-weight="normal" textLength="55.5" lengthAdjust="spacingAndGlyphs" >12 Aug 16:00</text>
<text x="196" y="836" font-size="9.7" fill="#000" stroke="#000" stroke-width="0.18" text-anchor="start" font-weight="normal" textLength="55.5" lengthAdjust="spacingAndGlyphs" >15 Aug 08:00</text>
<text x="260" y="836" font-size="9.7" fill="#000" stroke="#000" stroke-width="0.18" text-anchor="start" font-weight="normal" textLength="55.5" lengthAdjust="spacingAndGlyphs" >16 Aug 00:00</text>
<text x="324" y="836" font-size="9.7" fill="#000" stroke="#000" stroke-width="0.18" text-anchor="start" font-weight="normal" textLength="55.5" lengthAdjust="spacingAndGlyphs" >16 Aug 16:00</text>
<text x="388" y="836" font-size="9.7" fill="#000" stroke="#000" stroke-width="0.18" text-anchor="start" font-weight="normal" textLength="55.5" lengthAdjust="spacingAndGlyphs" >17 Aug 08:00</text>
<text x="452" y="836" font-size="9.7" fill="#000" stroke="#000" stroke-width="0.18" text-anchor="start" font-weight="normal" textLength="55.5" lengthAdjust="spacingAndGlyphs" >18 Aug 00:00</text>
<text x="516" y="836" font-size="9.7" fill="#000" stroke="#000" stroke-width="0.18" text-anchor="start" font-weight="normal" textLength="55.5" lengthAdjust="spacingAndGlyphs" >18 Aug 16:00</text>
<text x="580" y="836" font-size="9.7" fill="#000" stroke="#000" stroke-width="0.18" text-anchor="start" font-weight="normal" textLength="55.5" lengthAdjust="spacingAndGlyphs" >19 Aug 08:00</text>
<text x="644" y="836" font-size="9.7" fill="#000" stroke="#000" stroke-width="0.18" text-anchor="start" font-weight="normal" textLength="55.5" lengthAdjust="spacingAndGlyphs" >22 Aug 00:00</text>
<text x="708" y="836" font-size="9.7" fill="#000" stroke="#000" stroke-width="0.18" text-anchor="start" font-weight="normal" textLength="55.5" lengthAdjust="spacingAndGlyphs" >22 Aug 16:00</text>
<text x="772" y="836" font-size="9.7" fill="#000" stroke="#000" stroke-width="0.18" text-anchor="start" font-weight="normal" textLength="55.5" lengthAdjust="spacingAndGlyphs" >23 Aug 08:00</text>
<text x="836" y="836" font-size="9.7" fill="#000" stroke="#000" stroke-width="0.18" text-anchor="start" font-weight="normal" textLength="55.5" lengthAdjust="spacingAndGlyphs" >24 Aug 00:00</text>
<text x="900" y="836" font-size="9.7" fill="#000" stroke="#000" stroke-width="0.18" text-anchor="start" font-weight="normal" textLength="55.5" lengthAdjust="spacingAndGlyphs" >24 Aug 16:00</text>
<text x="964" y="836" font-size="9.7" fill="#000" stroke="#000" stroke-width="0.18" text-anchor="start" font-weight="normal" textLength="55.5" lengthAdjust="spacingAndGlyphs" >25 Aug 08:00</text>
<text x="1028" y="836" font-size="9.7" fill="#000" stroke="#000" stroke-width="0.18" text-anchor="start" font-weight="normal" textLength="55.5" lengthAdjust="spacingAndGlyphs" >26 Aug 00:00</text>
<text x="1092" y="836" font-size="9.7" fill="#000" stroke="#000" stroke-width="0.18" text-anchor="start" font-weight="normal" textLength="55.5" lengthAdjust="spacingAndGlyphs" >26 Aug 16:00</text>
<text x="1156" y="836" font-size="9.7" fill="#000" stroke="#000" stroke-width="0.18" text-anchor="start" font-weight="normal" textLength="55.5" lengthAdjust="spacingAndGlyphs" >29 Aug 08:00</text>
<text x="1220" y="836" font-size="9.7" fill="#000" stroke="#000" stroke-width="0.18" text-anchor="start" font-weight="normal" textLength="55.5" lengthAdjust="spacingAndGlyphs" >30 Aug 00:00</text>
<text x="1284" y="836" font-size="9.7" fill="#000" stroke="#000" stroke-width="0.18" text-anchor="start" font-weight="normal" textLength="55.5" lengthAdjust="spacingAndGlyphs" >30 Aug 16:00</text>
<text x="9" y="607" font-size="9.7" fill="#000" stroke="#000" stroke-width="0.18" text-anchor="start" font-weight="normal" textLength="148" lengthAdjust="spacingAndGlyphs" >MACD(12,26,9) 0.002604 0.001806</text>
<text x="9" y="732" font-size="9.7" fill="#000" stroke="#000" stroke-width="0.18" text-anchor="start" font-weight="normal" textLength="68" lengthAdjust="spacingAndGlyphs" >RSI(14) 64.6805</text>
<defs><linearGradient id="gPlus" x1="0" y1="0" x2="1" y2="1"><stop offset="0" stop-color="#9cff9c"/><stop offset="0.5" stop-color="#18e02a"/><stop offset="1" stop-color="#00a80c"/></linearGradient><linearGradient id="gGold" x1="0" y1="0" x2="1" y2="1"><stop offset="0" stop-color="#ffe24a"/><stop offset="0.6" stop-color="#e8b010"/><stop offset="1" stop-color="#c88a08"/></linearGradient><linearGradient id="gCloud" x1="0" y1="0" x2="0" y2="1"><stop offset="0" stop-color="#ffffff"/><stop offset="1" stop-color="#b8c8e0"/></linearGradient><linearGradient id="gBox" x1="0" y1="0" x2="1" y2="0"><stop offset="0" stop-color="#00a0ff"/><stop offset="1" stop-color="#2a7af0"/></linearGradient><linearGradient id="gCan" x1="0" y1="0" x2="1" y2="0"><stop offset="0" stop-color="#20d030"/><stop offset="0.5" stop-color="#90ff90"/><stop offset="1" stop-color="#10c020"/></linearGradient><radialGradient id="gLens" cx="0.4" cy="0.35" r="0.7"><stop offset="0" stop-color="#ffffff"/><stop offset="1" stop-color="#c0e4f4"/></radialGradient><linearGradient id="gBadge" x1="0" y1="0" x2="0" y2="1"><stop offset="0" stop-color="#e8593a"/><stop offset="1" stop-color="#d4200c"/></linearGradient><linearGradient id="gHat" x1="0" y1="0" x2="0" y2="1"><stop offset="0" stop-color="#8ccdf0"/><stop offset="1" stop-color="#4a9fd0"/></linearGradient><linearGradient id="gFun" x1="0" y1="0" x2="1" y2="1"><stop offset="0" stop-color="#fff080"/><stop offset="1" stop-color="#e8b820"/></linearGradient><radialGradient id="gSig" cx="0.5" cy="0.5" r="0.5"><stop offset="0" stop-color="#ffffff" stop-opacity="0"/><stop offset="0.5" stop-color="#60c060" stop-opacity="0.5"/><stop offset="1" stop-color="#209020" stop-opacity="0.9"/></radialGradient><pattern id="chk" width="2" height="2" patternUnits="userSpaceOnUse"><rect width="2" height="2" fill="#fff"/><rect width="1" height="1" fill="#f0f0f0"/><rect x="1" y="1" width="1" height="1" fill="#f0f0f0"/></pattern><linearGradient id="gClk" x1="0" y1="0" x2="1" y2="1"><stop offset="0" stop-color="#58b0ff"/><stop offset="0.500" stop-color="#1a70e0"/><stop offset="1" stop-color="#0a48b0"/></linearGradient></defs>
<g shape-rendering="crispEdges">
<rect x="5" y="1" width="1" height="20" fill="#a0a0a0"/>
<rect x="241" y="0" width="1" height="23" fill="#a0a0a0"/>
<rect x="242" y="0" width="1" height="23" fill="#fff"/>
<rect x="245" y="1" width="3" height="1" fill="#a8a8a8"/>
<rect x="245" y="3" width="3" height="1" fill="#a8a8a8"/>
<rect x="245" y="5" width="3" height="1" fill="#a8a8a8"/>
<rect x="245" y="7" width="3" height="1" fill="#a8a8a8"/>
<rect x="245" y="9" width="3" height="1" fill="#a8a8a8"/>
<rect x="245" y="11" width="3" height="1" fill="#a8a8a8"/>
<rect x="245" y="13" width="3" height="1" fill="#a8a8a8"/>
<rect x="245" y="15" width="3" height="1" fill="#a8a8a8"/>
<rect x="245" y="17" width="3" height="1" fill="#a8a8a8"/>
<rect x="245" y="19" width="3" height="1" fill="#a8a8a8"/>
<rect x="280" y="0" width="24" height="21" fill="url(#chk)"/>
<rect x="279" y="0" width="1" height="21" fill="#a0a0a0"/>
<rect x="279" y="21" width="26" height="1" fill="#fff"/>
<rect x="304" y="0" width="1" height="21" fill="#fff"/>
<rect x="336" y="0" width="1" height="21" fill="#a0a0a0"/>
<rect x="426" y="0" width="1" height="23" fill="#a0a0a0"/>
<rect x="427" y="0" width="1" height="23" fill="#fff"/>
<rect x="432" y="0" width="24" height="21" fill="url(#chk)"/>
<rect x="431" y="0" width="1" height="21" fill="#a0a0a0"/>
<rect x="431" y="21" width="26" height="1" fill="#fff"/>
<rect x="456" y="0" width="1" height="21" fill="#fff"/>
<rect x="460" y="0" width="24" height="21" fill="url(#chk)"/>
<rect x="459" y="0" width="1" height="21" fill="#a0a0a0"/>
<rect x="459" y="21" width="26" height="1" fill="#fff"/>
<rect x="484" y="0" width="1" height="21" fill="#fff"/>
<rect x="488" y="0" width="1" height="21" fill="#a0a0a0"/>
<rect x="609" y="0" width="1" height="23" fill="#a0a0a0"/>
<rect x="610" y="0" width="1" height="23" fill="#fff"/>
<rect x="613" y="1" width="3" height="1" fill="#a8a8a8"/>
<rect x="613" y="3" width="3" height="1" fill="#a8a8a8"/>
<rect x="613" y="5" width="3" height="1" fill="#a8a8a8"/>
<rect x="613" y="7" width="3" height="1" fill="#a8a8a8"/>
<rect x="613" y="9" width="3" height="1" fill="#a8a8a8"/>
<rect x="613" y="11" width="3" height="1" fill="#a8a8a8"/>
<rect x="613" y="13" width="3" height="1" fill="#a8a8a8"/>
<rect x="613" y="15" width="3" height="1" fill="#a8a8a8"/>
<rect x="613" y="17" width="3" height="1" fill="#a8a8a8"/>
<rect x="613" y="19" width="3" height="1" fill="#a8a8a8"/>
<rect x="620" y="0" width="24" height="21" fill="url(#chk)"/>
<rect x="619" y="0" width="1" height="21" fill="#a0a0a0"/>
<rect x="619" y="21" width="26" height="1" fill="#fff"/>
<rect x="644" y="0" width="1" height="21" fill="#fff"/>
<rect x="676" y="0" width="1" height="21" fill="#a0a0a0"/>
<rect x="915" y="0" width="1" height="23" fill="#a0a0a0"/>
<rect x="916" y="0" width="1" height="23" fill="#fff"/>
<rect x="919" y="1" width="3" height="1" fill="#a8a8a8"/>
<rect x="919" y="3" width="3" height="1" fill="#a8a8a8"/>
<rect x="919" y="5" width="3" height="1" fill="#a8a8a8"/>
<rect x="919" y="7" width="3" height="1" fill="#a8a8a8"/>
<rect x="919" y="9" width="3" height="1" fill="#a8a8a8"/>
<rect x="919" y="11" width="3" height="1" fill="#a8a8a8"/>
<rect x="919" y="13" width="3" height="1" fill="#a8a8a8"/>
<rect x="919" y="15" width="3" height="1" fill="#a8a8a8"/>
<rect x="919" y="17" width="3" height="1" fill="#a8a8a8"/>
<rect x="919" y="19" width="3" height="1" fill="#a8a8a8"/>
<rect x="1066" y="0" width="24" height="21" fill="url(#chk)"/>
<rect x="1065" y="0" width="1" height="21" fill="#a0a0a0"/>
<rect x="1065" y="21" width="26" height="1" fill="#fff"/>
<rect x="1090" y="0" width="1" height="21" fill="#fff"/>
<rect x="1176" y="0" width="1" height="21" fill="#a0a0a0"/>
<path d="M520.0 10h5l-2.5 3z" fill="#000" shape-rendering="geometricPrecision"/>
<path d="M559.0 10h5l-2.5 3z" fill="#000" shape-rendering="geometricPrecision"/>
<path d="M598.0 10h5l-2.5 3z" fill="#000" shape-rendering="geometricPrecision"/>
<path d="M904.0 10h5l-2.5 3z" fill="#000" shape-rendering="geometricPrecision"/>
<rect x="259" y="5" width="1" height="14" fill="#505050"/>
<rect x="257" y="16" width="13" height="1" fill="#505050"/>
<rect x="258" y="6" width="3" height="1" fill="#505050"/>
<rect x="257" y="7" width="1" height="1" fill="#505050" opacity="0.35"/><rect x="261" y="7" width="1" height="1" fill="#505050" opacity="0.35"/>
<rect x="268" y="15" width="1" height="3" fill="#505050"/>
<rect x="270" y="16" width="1" height="1" fill="#505050" opacity="0.5"/>
<rect x="267" y="14" width="1" height="1" fill="#505050" opacity="0.35"/><rect x="267" y="18" width="1" height="1" fill="#505050" opacity="0.35"/>
<rect x="287" y="5" width="1" height="14" fill="#505050"/>
<rect x="285" y="16" width="13" height="1" fill="#505050"/>
<rect x="286" y="6" width="3" height="1" fill="#505050"/>
<rect x="285" y="7" width="1" height="1" fill="#505050" opacity="0.35"/><rect x="289" y="7" width="1" height="1" fill="#505050" opacity="0.35"/>
<rect x="296" y="15" width="1" height="3" fill="#505050"/>
<rect x="298" y="16" width="1" height="1" fill="#505050" opacity="0.5"/>
<rect x="295" y="14" width="1" height="1" fill="#505050" opacity="0.35"/><rect x="295" y="18" width="1" height="1" fill="#505050" opacity="0.35"/>
<rect x="315" y="5" width="1" height="14" fill="#505050"/>
<rect x="313" y="16" width="13" height="1" fill="#505050"/>
<rect x="314" y="6" width="3" height="1" fill="#505050"/>
<rect x="313" y="7" width="1" height="1" fill="#505050" opacity="0.35"/><rect x="317" y="7" width="1" height="1" fill="#505050" opacity="0.35"/>
<rect x="324" y="15" width="1" height="3" fill="#505050"/>
<rect x="326" y="16" width="1" height="1" fill="#505050" opacity="0.5"/>
<rect x="323" y="14" width="1" height="1" fill="#505050" opacity="0.35"/><rect x="323" y="18" width="1" height="1" fill="#505050" opacity="0.35"/>
<rect x="439" y="5" width="1" height="14" fill="#505050"/>
<rect x="437" y="16" width="13" height="1" fill="#505050"/>
<rect x="438" y="6" width="3" height="1" fill="#505050"/>
<rect x="437" y="7" width="1" height="1" fill="#505050" opacity="0.35"/><rect x="441" y="7" width="1" height="1" fill="#505050" opacity="0.35"/>
<rect x="448" y="15" width="1" height="3" fill="#505050"/>
<rect x="450" y="16" width="1" height="1" fill="#505050" opacity="0.5"/>
<rect x="447" y="14" width="1" height="1" fill="#505050" opacity="0.35"/><rect x="447" y="18" width="1" height="1" fill="#505050" opacity="0.35"/>
<rect x="467" y="5" width="1" height="14" fill="#505050"/>
<rect x="465" y="16" width="13" height="1" fill="#505050"/>
<rect x="466" y="6" width="3" height="1" fill="#505050"/>
<rect x="465" y="7" width="1" height="1" fill="#505050" opacity="0.35"/><rect x="469" y="7" width="1" height="1" fill="#505050" opacity="0.35"/>
<rect x="476" y="15" width="1" height="3" fill="#505050"/>
<rect x="478" y="16" width="1" height="1" fill="#505050" opacity="0.5"/>
<rect x="475" y="14" width="1" height="1" fill="#505050" opacity="0.35"/><rect x="475" y="18" width="1" height="1" fill="#505050" opacity="0.35"/>
<rect x="265" y="6" width="1" height="9" fill="#008000"/><rect x="266" y="7" width="2" height="1" fill="#008000"/><rect x="263" y="13" width="2" height="1" fill="#008000"/>
<rect x="293" y="3" width="1" height="12" fill="#008000"/><rect x="291" y="5" width="5" height="8" fill="#008000"/>
<rect x="292" y="6" width="3" height="6" fill="url(#gCan)"/>
<rect x="652" y="11" width="6" height="1" fill="#505050"/><rect x="661" y="11" width="6" height="1" fill="#505050"/><rect x="659" y="4" width="1" height="6" fill="#505050"/><rect x="659" y="13" width="1" height="6" fill="#505050"/><rect x="659" y="11" width="1" height="1" fill="#909090"/>
<rect x="693" y="5" width="1" height="13" fill="#505050"/>
<rect x="716" y="11" width="12" height="1" fill="#505050"/>
<rect x="473" y="5" width="1" height="10" fill="#1070a8"/>
<line x1="799" y1="4.5" x2="812" y2="4.5" stroke="#505050" stroke-width="1" stroke-dasharray="1 1"/>
<line x1="799" y1="7.5" x2="812" y2="7.5" stroke="#505050" stroke-width="1" stroke-dasharray="1 1"/>
<line x1="799" y1="11.5" x2="812" y2="11.5" stroke="#505050" stroke-width="1" stroke-dasharray="1 1"/>
<line x1="799" y1="15.5" x2="809" y2="15.5" stroke="#505050" stroke-width="1" stroke-dasharray="1 1"/>
<rect x="856.500" y="5.500" width="11" height="12" fill="none" stroke="#505050" stroke-width="1" stroke-dasharray="1 1"/>
</g>
<g>
<path d="M314 13.8 C316.5 12.5 318 8.2 320.3 8.2 C322.5 8.2 323.5 11.5 325.8 12" fill="none" stroke="#2a9a2a" stroke-width="1.2"/>
<path d="M444.3 7.3v6.6l3.7-3.3z" fill="#7be07b" stroke="#10a010" stroke-width="0.9" stroke-linejoin="round"/>
<path d="M474.6 10.5l3-2.2v1.5h1.8v1.4h-1.8v1.5z" fill="#e05000" stroke="#b03000" stroke-width="0.4"/>
<line x1="743.8" y1="18" x2="756.2" y2="5.9" stroke="#505050" stroke-width="1.1"/>
<g stroke="#505050" stroke-width="1" fill="none"><line x1="770" y1="12.5" x2="778.5" y2="5"/><line x1="771.5" y1="16.5" x2="782.5" y2="6.5"/><line x1="775" y1="18" x2="784" y2="9.5"/><line x1="772.5" y1="10.5" x2="772" y2="17"/><line x1="776" y1="7.5" x2="775" y2="15"/><line x1="779.5" y1="5.5" x2="778.5" y2="12.5"/><line x1="782" y1="3.5" x2="782" y2="10"/></g>
<text x="781" y="20" font-size="6.5" font-weight="bold" fill="#303030">E</text>
<text x="808.800" y="20" font-size="6.5" font-weight="bold" fill="#303030">F</text>
<text x="829.600" y="16" font-size="12.500" fill="#606060" stroke="#606060" stroke-width="0.350" textLength="8" lengthAdjust="spacingAndGlyphs">A</text>
<text x="858.200" y="16" font-size="11" fill="#505050" stroke="#505050" stroke-width="0.300" textLength="7.800" lengthAdjust="spacingAndGlyphs">T</text>
<g fill="#505050"><path d="M886.5 4.800L890 8.200L886.5 9.800L883 8.200z"/><path d="M893.600 18.200L890.100 14.800L893.600 13.200L897.100 14.800z"/><path d="M884.800 12.300l2.500 2.200 4.800-5.200" fill="none" stroke="#505050" stroke-width="1.300"/></g>
<path d="M627 3.7V15l2.7-2.5 2.4 5.6 1.9-.9-2.4-5.4 3.6-.3z" fill="#505050"/>
<path d="M15.5 4.5q0-1 1-1h7l3 3v9q0 1-1 1h-9q-1 0-1-1z" fill="#fff" stroke="#808080" stroke-width="1"/>
<path d="M23.5 3.5v3h3" fill="#e0e0e0" stroke="#808080" stroke-width="0.8"/>
<rect x="17.3" y="5.4" width="2.6" height="1.2" fill="#707070"/><g stroke="#909090" stroke-width="0.9"><line x1="17.3" y1="9.5" x2="22.5" y2="9.5"/><line x1="17.3" y1="11.5" x2="21.5" y2="11.5"/><line x1="17.3" y1="13.5" x2="19.5" y2="13.5"/></g>
<path d="M23.3 9.5h3.4v3.8h3.8v3.4h-3.8v3.8h-3.4v-3.8h-3.8v-3.4h3.8z" fill="url(#gPlus)" stroke="#078a07" stroke-width="1" stroke-linejoin="round"/>
<path d="M498.5 4.8q0-1 1-1h6.5l3 3v8.5q0 1-1 1h-8.5q-1 0-1-1z" fill="#fff" stroke="#808080" stroke-width="1"/>
<path d="M506.0 3.8v3h3" fill="#e0e0e0" stroke="#808080" stroke-width="0.8"/>
<text x="500.3" y="13.5" font-size="10" font-style="italic" font-family="'Liberation Serif',serif" fill="#302010" stroke="#302010" stroke-width="0.200">f</text>
<path d="M506.3 9.6h3.4v3.7h3.7v3.4h-3.7v3.7h-3.4v-3.7h-3.7v-3.4h3.7z" fill="url(#gPlus)" stroke="#078a07" stroke-width="1" stroke-linejoin="round"/>
<path d="M87.400 4.200L97.200 10.800Q98 11.600 97.600 12.600L90.600 18.500Q90 18.900 89.400 18.500L82.200 13Q81.700 12.400 82.400 11.700Q85.600 8.800 86.400 4.800Q86.700 3.900 87.400 4.200Z" fill="url(#gGold)" stroke="#a86a10" stroke-width="1" stroke-linejoin="round"/>
<path d="M83.200 12.300l6.900 4.900 6.800-5.700" fill="none" stroke="#fff3b0" stroke-width="0.800" opacity="0.900"/><path d="M90.200 18.200l7-5.900" fill="none" stroke="#7a5208" stroke-width="0.700" opacity="0.800"/><path d="M87.500 6.500q-.6 3.200-3 5.400l5.200 3.600 5.400-4.600z" fill="#ffe860" opacity="0.450"/>
<path d="M112.200 4.200l2.800-1h6.400l1.600 1.200v8.600h-10.800z" fill="url(#gBox)"/><path d="M112.400 4.400l2.900 2v6.400" fill="none" stroke="#e8f6ff" stroke-width="0.800"/><path d="M115.300 6.300h7.600" stroke="#7cc8ff" stroke-width="0.600"/><rect x="117.200" y="7.400" width="4.400" height="1.200" fill="#e8f4ff"/><rect x="117.600" y="10" width="3.200" height="1.100" fill="#cfe8ff"/>
<path d="M113 18.400Q110.200 18.400 110.200 16Q110.200 13.800 112.600 13.600Q113 11.600 115.400 11.800Q116.600 11.900 117.200 12.600Q118.400 11.200 120.400 11.400Q122.600 11.700 123 13.600Q125.800 13.800 125.800 16.200Q125.800 18.400 123 18.400Z" fill="url(#gCloud)" stroke="#4a6aa8" stroke-width="0.900"/>
<g fill="none" stroke="#3a6ad0"><circle cx="146" cy="10.8" r="7.500" stroke-width="1.400" opacity="0.330"/><circle cx="146" cy="10.8" r="5.200" stroke-width="1.400" opacity="0.450"/><circle cx="146" cy="10.8" r="3" stroke-width="1.300" opacity="0.600"/></g>
<path d="M146 10.8L153.6 10.8A7.600 7.600 0 0 1 146 18.400z" fill="#38a838" opacity="0.55"/><path d="M146 10.8L151.4 5.400A7.600 7.600 0 0 1 153.600 10.800z" fill="#80c080" opacity="0.35"/>
<circle cx="146" cy="10.8" r="1.9" fill="#2858c8"/><rect x="145.5" y="11" width="1.3" height="7.6" fill="#18a018"/>
<path d="M165.800 10.300L181 10L174.600 18.400L171.500 17.500z" fill="url(#gFun)" stroke="#c89a18" stroke-width="0.7" stroke-linejoin="round"/>
<ellipse cx="173.1" cy="8" rx="8" ry="2.5" fill="url(#gHat)" stroke="#2a86b8" stroke-width="0.7"/><path d="M169.200 7.500q.300-4.300 3.800-4.300q3.400 0 3.600 4.300q-3.600 1.400-7.400 0z" fill="url(#gHat)" stroke="#2a86b8" stroke-width="0.7"/>
<circle cx="177.500" cy="14.800" r="4.200" fill="#e02808" stroke="#b81800" stroke-width="0.6"/><rect x="176.100" y="13.400" width="2.800" height="2.800" fill="#fff"/>
<path d="M355.4 13.200l5 5" stroke="#a87810" stroke-width="3.400" stroke-linecap="butt"/><path d="M355.4 13.200l5 5" stroke="#f0d030" stroke-width="2" stroke-linecap="butt"/>
<circle cx="351.2" cy="9" r="5.600" fill="url(#gLens)" stroke="#3a7cc8" stroke-width="1.200"/>
<rect x="348.2" y="8.100" width="6" height="1.800" fill="#4a90b4"/>
<rect x="350.3" y="6" width="1.800" height="6" fill="#4a90b4"/>
<path d="M383.4 13.200l5 5" stroke="#a87810" stroke-width="3.400" stroke-linecap="butt"/><path d="M383.4 13.200l5 5" stroke="#f0d030" stroke-width="2" stroke-linecap="butt"/>
<circle cx="379.2" cy="9" r="5.600" fill="url(#gLens)" stroke="#3a7cc8" stroke-width="1.200"/>
<rect x="376.2" y="8.100" width="6" height="1.800" fill="#4a90b4"/>
<rect x="401.3" y="3.4" width="7.700" height="7.600" rx="0.900" fill="#3ea020"/><rect x="401.3" y="3.4" width="7.700" height="2.600" rx="0.900" fill="#2a8810"/><rect x="402.4" y="6.4" width="5.500" height="3.700" fill="#fff"/><rect x="403.4" y="9.0" width="3.500" height="1.100" fill="#3ea020"/><rect x="403.3" y="7.4" width="3.700" height="0.700" fill="#3ea020" opacity="0.450"/><rect x="402.3" y="4.4" width="0.900" height="0.900" fill="#fff" opacity="0.800"/>
<rect x="409.2" y="3.4" width="7.700" height="7.600" rx="0.900" fill="#2050d8"/><rect x="409.2" y="3.4" width="7.700" height="2.600" rx="0.900" fill="#1038b8"/><rect x="410.3" y="6.4" width="5.500" height="3.700" fill="#fff"/><rect x="411.3" y="9.0" width="3.500" height="1.100" fill="#2050d8"/><rect x="411.2" y="7.4" width="3.700" height="0.700" fill="#2050d8" opacity="0.450"/><rect x="410.2" y="4.4" width="0.900" height="0.900" fill="#fff" opacity="0.800"/>
<rect x="401.3" y="11.1" width="7.700" height="7.600" rx="0.900" fill="#2050d8"/><rect x="401.3" y="11.1" width="7.700" height="2.600" rx="0.900" fill="#1038b8"/><rect x="402.4" y="14.1" width="5.500" height="3.700" fill="#fff"/><rect x="403.4" y="16.7" width="3.500" height="1.100" fill="#2050d8"/><rect x="403.3" y="15.1" width="3.700" height="0.700" fill="#2050d8" opacity="0.450"/><rect x="402.3" y="12.1" width="0.900" height="0.900" fill="#fff" opacity="0.800"/>
<rect x="409.2" y="11.1" width="7.700" height="7.600" rx="0.900" fill="#3ea020"/><rect x="409.2" y="11.1" width="7.700" height="2.600" rx="0.900" fill="#2a8810"/><rect x="410.3" y="14.1" width="5.500" height="3.700" fill="#fff"/><rect x="411.3" y="16.7" width="3.500" height="1.100" fill="#3ea020"/><rect x="411.2" y="15.1" width="3.700" height="0.700" fill="#3ea020" opacity="0.450"/><rect x="410.2" y="12.1" width="0.900" height="0.900" fill="#fff" opacity="0.800"/>
<circle cx="544.100" cy="10.900" r="6.800" fill="#fdfdff" stroke="url(#gClk)" stroke-width="2.300"/><circle cx="544.100" cy="10.900" r="8.100" fill="none" stroke="#0a48a8" stroke-width="0.500" opacity="0.700"/>
<g stroke="#202020" stroke-width="1.100" stroke-linecap="round"><line x1="544.100" y1="10.900" x2="543.500" y2="7.300"/><line x1="544.100" y1="10.900" x2="546.800" y2="11.300"/></g>
<g fill="#909090"><rect x="543.800" y="5.700" width="0.700" height="1"/><rect x="543.800" y="15.200" width="0.700" height="1"/><rect x="538.900" y="10.600" width="1" height="0.700"/><rect x="548.400" y="10.600" width="1" height="0.700"/><rect x="541" y="6.600" width="0.700" height="0.700"/><rect x="546.600" y="6.600" width="0.700" height="0.700"/><rect x="541" y="14.600" width="0.700" height="0.700"/><rect x="546.600" y="14.600" width="0.700" height="0.700"/></g>
<rect x="575.500" y="4.500" width="15" height="13" rx="0.800" fill="#fff" stroke="#4080d0" stroke-width="1"/><rect x="576" y="5" width="14" height="1.800" fill="#5a98e0"/><line x1="576" y1="12.200" x2="590" y2="12.200" stroke="#4080d0" stroke-width="0.800"/>
<path d="M577.500 10.300h1.500l1.500-1.300h1.500l1.200-1 1.600 1.300h1.600l1.300-1.200" fill="none" stroke="#a02000" stroke-width="1.250"/><path d="M578.200 15.200l1.600-1 1.500 1 1.400 0 1.800-1.800 1.400 0.300 1.400 1.800" fill="none" stroke="#109020" stroke-width="1.250"/>
<circle cx="1646.600" cy="8.300" r="3.800" fill="#fbfbff" stroke="#2458cc" stroke-width="1.300"/><path d="M1643.700 11.300l-4.700 4.500" stroke="#2458cc" stroke-width="2.400" stroke-linecap="round"/>
<path d="M1664 13.500q0-4.800 7-4.800q7 0 7 4.600q0 4-7 4.300l-3 .1-1.600 1.900-.1-2.400q-2.300-1.200-2.300-3.700z" fill="#e4e4ec" stroke="#a8a8a8" stroke-width="0.800"/>
<circle cx="1677.500" cy="8.200" r="8.400" fill="url(#gBadge)"/>
<text x="1677.300" y="12.700" font-size="12" font-weight="bold" fill="#fff" text-anchor="middle">1</text>
</g>
<text x="34" y="14.600" font-size="12" fill="#000" stroke="#000" stroke-width="0.150">新订单</text>
<text x="186.500" y="14.600" font-size="12" fill="#000" stroke="#000" stroke-width="0.150">自动交易</text>
<text x="930.5" y="15" font-size="9.800" fill="#404040" stroke="#404040" stroke-width="0.150" textLength="12.5" lengthAdjust="spacingAndGlyphs">M1</text>
<text x="958.5" y="15" font-size="9.800" fill="#404040" stroke="#404040" stroke-width="0.150" textLength="12.5" lengthAdjust="spacingAndGlyphs">M5</text>
<text x="984.7" y="15" font-size="9.800" fill="#404040" stroke="#404040" stroke-width="0.150" textLength="17.7" lengthAdjust="spacingAndGlyphs">M15</text>
<text x="1012.6" y="15" font-size="9.800" fill="#404040" stroke="#404040" stroke-width="0.150" textLength="17.7" lengthAdjust="spacingAndGlyphs">M30</text>
<text x="1043.6" y="15" font-size="9.800" fill="#404040" stroke="#404040" stroke-width="0.150" textLength="11.5" lengthAdjust="spacingAndGlyphs">H1</text>
<text x="1070.5" y="15" font-size="9.800" fill="#404040" stroke="#404040" stroke-width="0.150" textLength="12.5" lengthAdjust="spacingAndGlyphs">H4</text>
<text x="1099.4" y="15" font-size="9.800" fill="#404040" stroke="#404040" stroke-width="0.150" textLength="11.6" lengthAdjust="spacingAndGlyphs">D1</text>
<text x="1127.4" y="15" font-size="9.800" fill="#404040" stroke="#404040" stroke-width="0.150" textLength="13.6" lengthAdjust="spacingAndGlyphs">W1</text>
<text x="1153.7" y="15" font-size="9.800" fill="#404040" stroke="#404040" stroke-width="0.150" textLength="14.6" lengthAdjust="spacingAndGlyphs">MN</text>
</svg>
</body></html>
